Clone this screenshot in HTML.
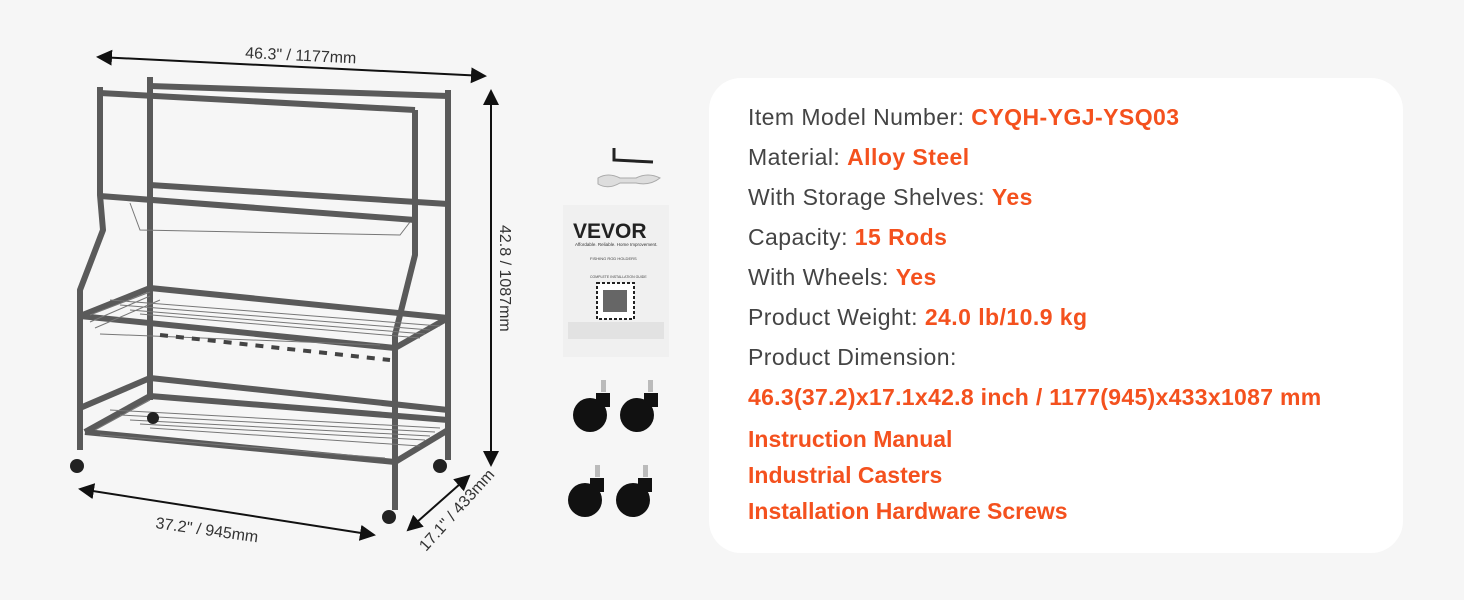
<!DOCTYPE html>
<html><head><meta charset="utf-8"><style>
body{margin:0;width:1464px;height:600px;background:#f6f6f6;position:relative;overflow:hidden;font-family:"Liberation Sans",sans-serif}
.card{position:absolute;left:709px;top:78px;width:694px;height:475px;background:#fff;border-radius:32px}
.t{position:absolute;left:748px;font-size:23px;color:#444;white-space:nowrap;letter-spacing:0.45px}
.t b{color:#f4511e}
.o{color:#f4511e;font-weight:bold;letter-spacing:0.3px}
.o2{letter-spacing:0px}
</style></head><body>
<div class="card"></div>
<div class="t" style="top:104px">Item Model Number: <b>CYQH-YGJ-YSQ03</b></div>
<div class="t" style="top:144px">Material: <b>Alloy Steel</b></div>
<div class="t" style="top:184px">With Storage Shelves: <b>Yes</b></div>
<div class="t" style="top:224px">Capacity: <b>15 Rods</b></div>
<div class="t" style="top:264px">With Wheels: <b>Yes</b></div>
<div class="t" style="top:304px">Product Weight: <b>24.0 lb/10.9 kg</b></div>
<div class="t" style="top:344px">Product Dimension:</div>
<div class="t o" style="top:384px">46.3(37.2)x17.1x42.8 inch / 1177(945)x433x1087 mm</div>
<div class="t o o2" style="top:426px">Instruction Manual</div>
<div class="t o o2" style="top:462px">Industrial Casters</div>
<div class="t o o2" style="top:498px">Installation Hardware Screws</div>

<svg width="720" height="600" style="position:absolute;left:0;top:0" font-family="Liberation Sans,sans-serif">
<defs><marker id="a" markerWidth="8" markerHeight="8" refX="7" refY="4" orient="auto-start-reverse"><path d="M0,0 L8,4 L0,8 z" fill="#111"/></marker></defs>
<g stroke="#111" stroke-width="2" fill="none">
<line x1="98" y1="57" x2="485" y2="76" marker-start="url(#a)" marker-end="url(#a)"/>
<line x1="491" y1="91" x2="491" y2="465" marker-start="url(#a)" marker-end="url(#a)"/>
<line x1="80" y1="489" x2="374" y2="535" marker-start="url(#a)" marker-end="url(#a)"/>
<line x1="408" y1="530" x2="469" y2="476" marker-start="url(#a)" marker-end="url(#a)"/>
</g>
<text x="245" y="58" font-size="16" fill="#333" transform="rotate(2.8 245 58)">46.3" / 1177mm</text>
<text x="500" y="225" font-size="16" fill="#333" transform="rotate(90 500 225)">42.8 / 1087mm</text>
<text x="155" y="528" font-size="16" fill="#333" transform="rotate(8 155 528)">37.2" / 945mm</text>
<text x="426" y="552" font-size="16" fill="#333" transform="rotate(-48 426 552)">17.1" / 433mm</text>
<g stroke="#5a5a5a" stroke-width="6" fill="none" stroke-linejoin="round">
<polyline points="100,87 100,195 103,230 80,290 80,450"/>
<line x1="150" y1="77" x2="150" y2="400"/>
<line x1="448" y1="90" x2="448" y2="460"/>
<polyline points="415,110 415,255 395,335 395,510"/>
<line x1="100" y1="93" x2="415" y2="110"/>
<line x1="150" y1="86" x2="448" y2="96"/>
<line x1="100" y1="196" x2="415" y2="220"/>
<line x1="150" y1="185" x2="448" y2="204"/>
<line x1="80" y1="316" x2="395" y2="348"/>
<line x1="150" y1="288" x2="448" y2="318"/>
<line x1="395" y1="348" x2="448" y2="318"/>
<line x1="80" y1="316" x2="150" y2="288"/>
<line x1="85" y1="432" x2="395" y2="462"/>
<line x1="150" y1="396" x2="448" y2="420"/>
<line x1="85" y1="432" x2="150" y2="396"/>
<line x1="395" y1="462" x2="448" y2="430"/>
<line x1="150" y1="378" x2="448" y2="410"/>
<line x1="80" y1="408" x2="150" y2="378"/>
</g>
<g stroke="#777" stroke-width="1" fill="none">
<path d="M130,203 L140,230 L400,235 L410,222"/>
<path d="M90,315 L150,292 M90,322 L150,296 M95,328 L160,300 M100,334 L380,345 M110,300 L440,326 M120,305 L430,330 M130,310 L425,334 M140,314 L420,338"/>
<path d="M95,430 L150,400 M100,435 L385,458 M110,410 L440,428 M120,415 L435,432 M130,420 L430,436 M140,424 L425,440 M150,428 L420,446"/>
</g>
<g stroke="#444" stroke-width="4">
<line x1="160" y1="335" x2="390" y2="360" stroke-dasharray="8 8"/>
</g>
<g fill="#222"><circle cx="77" cy="466" r="7"/><circle cx="440" cy="466" r="7"/><circle cx="389" cy="517" r="7"/><circle cx="153" cy="418" r="6"/></g>
<path d="M614,148 L614,160 L653,162" stroke="#222" stroke-width="3" fill="none"/>
<path d="M598,178 Q608,172 620,178 L636,178 Q648,172 660,178 Q650,186 636,183 L620,183 Q608,190 598,184 Z" fill="#ddd" stroke="#aaa"/>
<rect x="563" y="205" width="106" height="152" fill="#f0f0f0"/>
<text x="573" y="238" font-size="21" font-weight="bold" fill="#222">VEVOR</text>
<text x="575" y="246" font-size="4.5" fill="#333">Affordable. Reliable. Home Improvement.</text>
<text x="590" y="260" font-size="4" fill="#444">FISHING ROD HOLDERS</text>
<text x="590" y="278" font-size="3.5" fill="#444">COMPLETE INSTALLATION GUIDE</text>
<rect x="597" y="283" width="37" height="36" fill="#fff" stroke="#222" stroke-width="2" stroke-dasharray="3 2"/>
<rect x="603" y="290" width="24" height="22" fill="#666"/>
<rect x="568" y="322" width="96" height="17" fill="#e2e2e2"/>
<g fill="#111">
<circle cx="590" cy="415" r="17"/><circle cx="637" cy="415" r="17"/>
<circle cx="585" cy="500" r="17"/><circle cx="633" cy="500" r="17"/>
<rect x="596" y="393" width="14" height="14"/><rect x="644" y="393" width="14" height="14"/>
<rect x="590" y="478" width="14" height="14"/><rect x="638" y="478" width="14" height="14"/>
</g>
<g fill="#bbb"><rect x="601" y="380" width="5" height="12"/><rect x="648" y="380" width="5" height="12"/><rect x="595" y="465" width="5" height="12"/><rect x="643" y="465" width="5" height="12"/></g>
</svg>
</body></html>
